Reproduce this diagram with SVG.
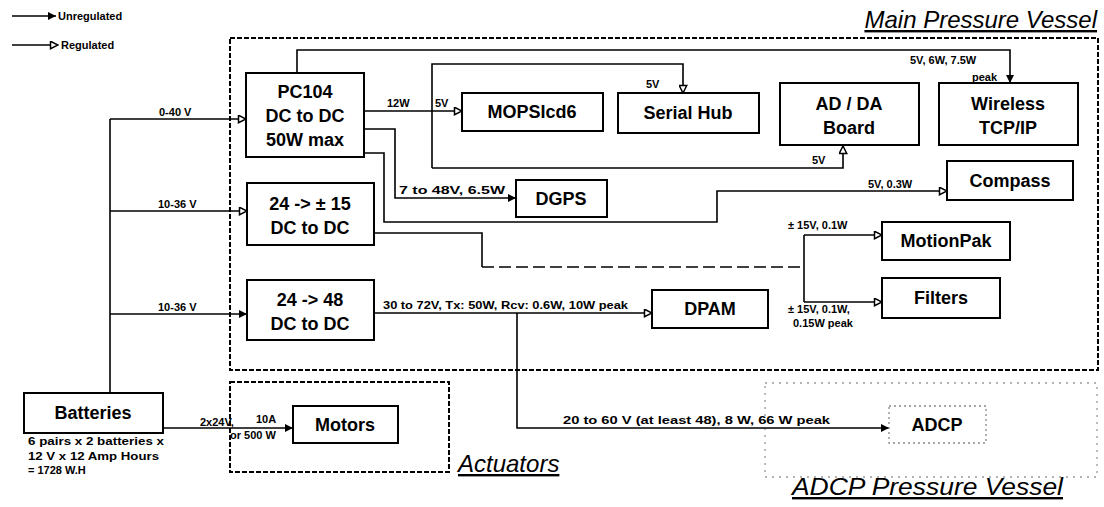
<svg xmlns="http://www.w3.org/2000/svg" width="1104" height="507" viewBox="0 0 1104 507">
<defs>
<style>
.box{fill:#fff;stroke:#000;stroke-width:2}
.t{font-family:"Liberation Sans",Arial,sans-serif;font-weight:bold;font-size:18px;fill:#000;text-anchor:middle}
.s{font-family:"Liberation Sans",Arial,sans-serif;font-weight:bold;font-size:11px;fill:#000}
.title{font-family:"Liberation Sans",Arial,sans-serif;font-style:italic;font-size:24px;fill:#000;text-decoration:underline}
.c{fill:none;stroke:#000;stroke-width:1.6}
.cu{fill:none;stroke:#000;stroke-width:1.6;marker-end:url(#af)}
.cr{fill:none;stroke:#000;stroke-width:1.6;marker-end:url(#ao)}
.vessel{fill:none;stroke:#000;stroke-width:2;stroke-dasharray:5 2}
.faint{fill:none;stroke:#999;stroke-width:1.3;stroke-dasharray:2 5}
</style>
<marker id="af" viewBox="0 0 10 10" refX="10" refY="5" markerWidth="9" markerHeight="8" markerUnits="userSpaceOnUse" orient="auto"><path d="M0,0 L10,5 L0,10 z" fill="#000"/></marker>
<marker id="ao" viewBox="0 0 12 12" refX="11" refY="6" markerWidth="10" markerHeight="9" markerUnits="userSpaceOnUse" orient="auto"><path d="M1,1 L11,6 L1,11 z" fill="#fff" stroke="#000" stroke-width="2"/></marker>
</defs>
<rect width="1104" height="507" fill="#fff"/>

<g id="legend">
<path class="cu" d="M12,16 H56"/>
<text class="s" x="58" y="20" font-size="12">Unregulated</text>
<path class="cr" d="M12,45 H58"/>
<text class="s" x="61" y="49" font-size="12">Regulated</text>
</g>

<g id="main-pressure-vessel">
<rect class="vessel" x="230" y="38" width="868" height="332"/>
<text class="title" x="1097" y="28" text-anchor="end">Main Pressure Vessel</text>
</g>
<g id="actuators">
<rect class="vessel" x="230" y="382" width="219" height="90"/>
<text class="title" x="458" y="472">Actuators</text>
</g>
<g id="adcp-pressure-vessel">
<rect class="faint" x="765" y="383" width="332" height="94"/>
<text class="title" x="792" y="495" textLength="271" lengthAdjust="spacingAndGlyphs">ADCP Pressure Vessel</text>
</g>

<g id="connectors">
<path class="c" d="M110,393 V119"/>
<path class="cr" d="M110,119 H246"/>
<path class="cr" d="M110,211 H247"/>
<path class="cu" d="M110,314 H247"/>
<path class="cu" d="M163,428 H293"/>
<path class="cr" d="M364,111 H462"/>
<path class="cr" d="M432,168 V64 H683 V93"/>
<path class="cr" d="M432,168 H843 V146"/>
<path class="cu" d="M297,73 V50 H1010 V83"/>
<path class="cu" d="M364,129 H395 V198 H516"/>
<path class="cr" d="M364,153 H384 V222 H717 V191 H947"/>
<path class="c" d="M374,233 H482 V267"/>
<path class="c" d="M482,267 H804" stroke-dasharray="12 5"/>
<path class="c" d="M804,235 V302"/>
<path class="cr" d="M804,235 H882"/>
<path class="cr" d="M804,302 H882"/>
<path class="cr" d="M374,313 H652"/>
<path class="cu" d="M517,313 V428 H889"/>
</g>

<g id="labels">
<text class="s" x="159" y="116">0-40 V</text>
<text class="s" x="158" y="208">10-36 V</text>
<text class="s" x="158" y="311">10-36 V</text>
<text class="s" x="387" y="107">12W</text>
<text class="s" x="435" y="107">5V</text>
<text class="s" x="646" y="88">5V</text>
<text class="s" x="812" y="164">5V</text>
<text class="s" x="910" y="64">5V, 6W, 7.5W</text>
<text class="s" x="972" y="81">peak</text>
<text class="s" x="399" y="194" textLength="106" lengthAdjust="spacingAndGlyphs">7 to 48V, 6.5W</text>
<text class="s" x="868" y="188">5V, 0.3W</text>
<text class="s" x="788" y="229">± 15V, 0.1W</text>
<text class="s" x="788" y="313">± 15V, 0.1W,</text>
<text class="s" x="793" y="327">0.15W peak</text>
<text class="s" x="383" y="309" textLength="245" lengthAdjust="spacingAndGlyphs">30 to 72V, Tx: 50W, Rcv: 0.6W, 10W peak</text>
<text class="s" x="563" y="424" textLength="267" lengthAdjust="spacingAndGlyphs">20 to 60 V (at least 48), 8 W, 66 W peak</text>
<text class="s" x="200" y="426">2x24V,</text>
<text class="s" x="256" y="423">10A</text>
<text class="s" x="230" y="439">or 500 W</text>
</g>

<g id="pc104">
<rect class="box" x="246" y="73" width="118" height="84"/>
<text class="t" x="305" y="98">PC104</text>
<text class="t" x="305" y="122">DC to DC</text>
<text class="t" x="305" y="146">50W max</text>
</g>
<g id="dc15">
<rect class="box" x="247" y="183" width="127" height="62"/>
<text class="t" x="310" y="210">24 -&gt; ± 15</text>
<text class="t" x="310" y="234">DC to DC</text>
</g>
<g id="dc48">
<rect class="box" x="247" y="280" width="127" height="60"/>
<text class="t" x="310" y="306">24 -&gt; 48</text>
<text class="t" x="310" y="330">DC to DC</text>
</g>
<g id="mopsicd6">
<rect class="box" x="462" y="93" width="141" height="38"/>
<text class="t" x="532" y="118">MOPSIcd6</text>
</g>
<g id="serialhub">
<rect class="box" x="618" y="93" width="141" height="40"/>
<text class="t" x="688" y="119">Serial Hub</text>
</g>
<g id="adda">
<rect class="box" x="780" y="83" width="139" height="62"/>
<text class="t" x="849" y="110">AD / DA</text>
<text class="t" x="849" y="134">Board</text>
</g>
<g id="wireless">
<rect class="box" x="939" y="83" width="139" height="62"/>
<text class="t" x="1008" y="110">Wireless</text>
<text class="t" x="1008" y="134">TCP/IP</text>
</g>
<g id="dgps">
<rect class="box" x="516" y="180" width="91" height="37"/>
<text class="t" x="561" y="205">DGPS</text>
</g>
<g id="compass">
<rect class="box" x="947" y="161" width="126" height="39"/>
<text class="t" x="1010" y="187">Compass</text>
</g>
<g id="motionpak">
<rect class="box" x="882" y="222" width="128" height="38"/>
<text class="t" x="946" y="247">MotionPak</text>
</g>
<g id="filters">
<rect class="box" x="882" y="278" width="118" height="40"/>
<text class="t" x="941" y="304">Filters</text>
</g>
<g id="dpam">
<rect class="box" x="652" y="290" width="116" height="38"/>
<text class="t" x="710" y="315">DPAM</text>
</g>
<g id="adcp">
<rect x="889" y="406" width="97" height="37" fill="#fff" stroke="#888" stroke-width="1.3" stroke-dasharray="2 3"/>
<text class="t" x="937" y="431">ADCP</text>
</g>
<g id="motors">
<rect class="box" x="293" y="406" width="105" height="37"/>
<text class="t" x="345" y="431">Motors</text>
</g>
<g id="batteries">
<rect class="box" x="24" y="393" width="139" height="40"/>
<text class="t" x="93" y="419">Batteries</text>
<text class="s" x="28" y="445" textLength="136" lengthAdjust="spacingAndGlyphs">6 pairs x 2 batteries x</text>
<text class="s" x="28" y="460" textLength="131" lengthAdjust="spacingAndGlyphs">12 V x 12 Amp Hours</text>
<text class="s" x="28" y="474">= 1728 W.H</text>
</g>
</svg>
